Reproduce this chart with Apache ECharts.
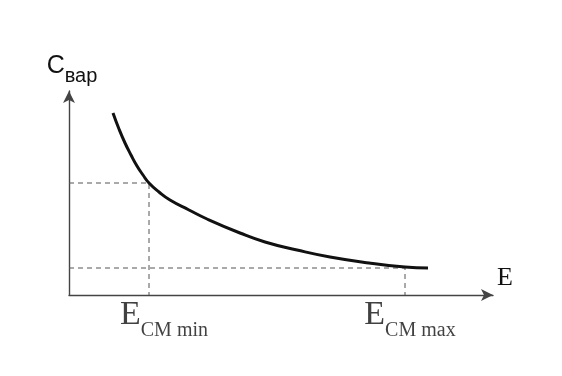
<!DOCTYPE html>
<html>
<head>
<meta charset="utf-8">
<script src="https://cdn.jsdelivr.net/npm/echarts@6/dist/echarts.min.js"></script>
<style>
  html, body { margin: 0; padding: 0; background: #fff; }
  #chart { width: 562px; height: 376px; }
</style>
</head>
<body>
<div id="chart"></div>
<script>
"use strict";

// curve: [E, Cвар] in arbitrary units
const curveE = [44, 50, 56, 62, 68, 74, 80, 90, 101, 120, 138, 171, 196, 228, 261, 300, 336, 359];
const curveC = [182, 166, 152, 140, 129, 120, 112, 103, 95, 85, 76, 62, 53, 45, 38, 32, 28, 27];

// marked operating points
const eMin = 80, cAtEMin = 112;
const eMax = 336, cAtEMax = 27;

const axisEnd = { x: 424, y: 204 };

const serif = "'Liberation Serif', 'DejaVu Serif', serif";
const sans = "'Liberation Sans', Arial, sans-serif";

const chart = echarts.init(document.getElementById("chart"), null, { renderer: "canvas" });

const curveData = curveE.map((e, i) => [e, curveC[i]]);

const dashStyle = { color: "#555", width: 1, type: [5, 4] };

const axisLine = {
  show: true,
  symbol: ["none", "arrow"],
  symbolSize: [9, 12],
  lineStyle: { color: "#444", width: 1.4 }
};

chart.setOption({
  animation: false,
  backgroundColor: "#fff",
  grid: { left: 69, top: 91, width: 424, height: 204, containLabel: false },
  xAxis: {
    type: "value",
    min: 0,
    max: axisEnd.x,
    axisLine,
    axisTick: { show: false },
    axisLabel: { show: false },
    splitLine: { show: false },
    name: "E",
    nameLocation: "end",
    nameGap: 4,
    nameTextStyle: {
      fontFamily: serif,
      fontSize: 26,
      color: "#111",
      verticalAlign: "bottom",
      padding: [0, 0, 4, 0]
    }
  },
  yAxis: {
    type: "value",
    min: 0,
    max: axisEnd.y,
    axisLine,
    axisTick: { show: false },
    axisLabel: { show: false },
    splitLine: { show: false },
    name: "{c|C}{s|вар}",
    nameLocation: "end",
    nameGap: 5,
    nameTextStyle: {
      padding: [0, 0, 0, 6],
      rich: {
        c: { fontFamily: sans, fontSize: 25, color: "#111", verticalAlign: "bottom", padding: [0, 0, 7, 0] },
        s: { fontFamily: sans, fontSize: 20, color: "#111", verticalAlign: "bottom" }
      }
    }
  },
  series: [
    {
      type: "line",
      data: [[0, cAtEMin], [eMin, cAtEMin], [eMin, 0]],
      symbol: "none",
      lineStyle: dashStyle,
      z: 1
    },
    {
      type: "line",
      data: [[0, cAtEMax], [eMax, cAtEMax], [eMax, 0]],
      symbol: "none",
      lineStyle: dashStyle,
      z: 1
    },
    {
      type: "line",
      data: curveData,
      smooth: 0.5,
      symbol: "none",
      lineStyle: { color: "#111", width: 3 },
      z: 3
    },
    {
      type: "scatter",
      symbolSize: 0,
      silent: true,
      data: [
        { value: [eMin, 0], label: { formatter: "{e|E}{s|CM min}", offset: [15, 0] } },
        { value: [eMax, 0], label: { formatter: "{e|E}{s|CM max}", offset: [5, 0] } }
      ],
      label: {
        show: true,
        position: "bottom",
        distance: 3,
        rich: {
          e: { fontFamily: serif, fontSize: 34, color: "#111", verticalAlign: "bottom", padding: [0, 0, 9, 0] },
          s: { fontFamily: serif, fontSize: 20, color: "#111", verticalAlign: "bottom" }
        }
      }
    }
  ]
});
</script>
</body>
</html>
